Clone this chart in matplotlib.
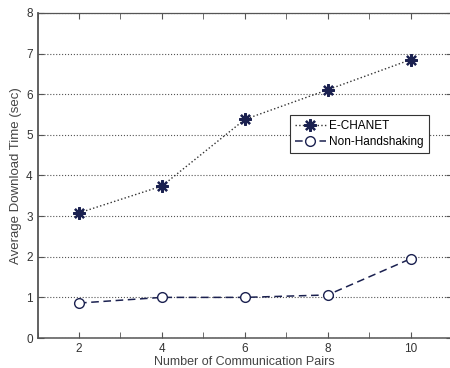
import matplotlib
matplotlib.use("Agg")
import matplotlib.pyplot as plt
from matplotlib.ticker import MultipleLocator

plt.rcParams['font.family'] = ['Liberation Sans', 'DejaVu Sans']

pairs = [2, 4, 6, 8, 10]
echanet = [3.08, 3.74, 5.38, 6.11, 6.85]
non_handshaking = [0.86, 1.00, 1.00, 1.06, 1.95]
x_ticks = [2, 4, 6, 8, 10]
y_ticks = [0, 1, 2, 3, 4, 5, 6, 7, 8]

navy = '#1b2150'
axis_col = '#555555'

fig = plt.figure(figsize=(4.5, 3.68), dpi=100)
ax = fig.add_axes([0.0835, 0.0815, 0.921, 0.8832])

# asterisk marker: eight spokes, like a "+" over an "x"
asterisk = (8, 2, 0)

ax.plot(pairs, echanet, linestyle=':', color='#333333', linewidth=1.0,
        marker=asterisk, markersize=9, markerfacecolor=navy, markeredgecolor=navy,
        markeredgewidth=1.6, label='E-CHANET')
ax.plot(pairs, non_handshaking, linestyle=(0, (5, 3)), color=navy, linewidth=1.1,
        marker='o', markersize=7, markerfacecolor='white', markeredgecolor=navy,
        markeredgewidth=1.0, label='Non-Handshaking')

ax.set_xlim(1, 11)
ax.set_ylim(0, 8)
ax.set_xticks(x_ticks)
ax.xaxis.set_minor_locator(MultipleLocator(1))
ax.set_yticks(y_ticks)
ax.yaxis.grid(True, linestyle=':', color='#555555', linewidth=0.8)
ax.set_axisbelow(True)

for s in ax.spines.values():
    s.set_color(axis_col)
    s.set_linewidth(0.9)
ax.spines['left'].set_linewidth(1.3)
ax.spines['bottom'].set_linewidth(1.1)
ax.tick_params(axis='both', which='both', direction='in', colors=axis_col,
               labelsize=8.5, top=True, right=True, labelcolor='#333333')
ax.tick_params(which='major', length=4)
ax.tick_params(which='minor', length=4)

ax.set_xlabel('Number of Communication Pairs', fontsize=9, color='#444444', labelpad=0.5)
ax.set_ylabel('Average Download Time (sec)', fontsize=9.5, color='#444444', labelpad=3)

leg = ax.legend(loc='upper left', bbox_to_anchor=(0.61, 0.685), fontsize=8.5,
                frameon=True, fancybox=False, framealpha=1, edgecolor='#333333',
                handlelength=2.6, borderpad=0.4, labelspacing=0.35, handletextpad=0.3,
                borderaxespad=0)
leg.get_frame().set_linewidth(0.8)

fig.savefig('out.png', dpi=100)
